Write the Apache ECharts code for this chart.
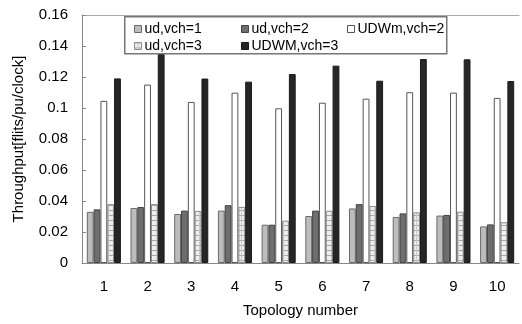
<!DOCTYPE html>
<html>
<head>
<meta charset="utf-8">
<script src="https://cdn.jsdelivr.net/npm/echarts@6/dist/echarts.min.js"></script>
<style>html,body{margin:0;padding:0;background:#fff}#c{width:522px;height:324px}</style>
</head>
<body>
<div id="c"></div>
<script>
const categories = ['1','2','3','4','5','6','7','8','9','10'];
const seriesNames = ['ud,vch=1','ud,vch=2','UDWm,vch=2','ud,vch=3','UDWM,vch=3'];
const udVch1   = [0.0330, 0.0355, 0.0316, 0.0338, 0.0247, 0.0303, 0.0352, 0.0297, 0.0306, 0.0236];
const udVch2   = [0.0346, 0.0361, 0.0338, 0.0373, 0.0247, 0.0338, 0.0380, 0.0320, 0.0310, 0.0249];
const udwmVch2 = [0.1046, 0.1151, 0.1039, 0.1099, 0.0998, 0.1034, 0.1060, 0.1102, 0.1099, 0.1065];
const udVch3   = [0.0380, 0.0380, 0.0336, 0.0362, 0.0273, 0.0337, 0.0368, 0.0327, 0.0331, 0.0263];
const udwmVch3 = [0.1191, 0.1348, 0.1190, 0.1170, 0.1219, 0.1273, 0.1176, 0.1316, 0.1314, 0.1174];
const yTicks = { min: 0, max: 0.16, interval: 0.02 };

// hatch pattern for ud,vch=3
const pc = document.createElement('canvas');
pc.width = 7; pc.height = 5;
const g = pc.getContext('2d');
g.fillStyle = '#eeeeee'; g.fillRect(0,0,7,5);
g.fillStyle = '#a8a8a8'; g.fillRect(0,0,7,1);
g.fillStyle = '#c8c8c8'; g.fillRect(3,0,1,5);
const hatch = { image: pc, repeat: 'repeat' };

const FONT = "'Liberation Sans', Arial, sans-serif";
const styles = [
  { color: '#bdbdbd', borderColor: '#6a6a6a' },
  { color: '#6e6e6e', borderColor: '#444444' },
  { color: '#ffffff', borderColor: '#555555' },
  { color: hatch,     borderColor: '#8a8a8a' },
  { color: '#262626', borderColor: '#1a1a1a' }
];
const values = [udVch1, udVch2, udwmVch2, udVch3, udwmVch3];
const legendPos = [[129,17],[236,17],[342,17],[129,34],[236,34]];

const chart = echarts.init(document.getElementById('c'), null, { renderer: 'canvas' });
chart.setOption({
  animation: false,
  textStyle: { fontFamily: FONT },
  grid: { left: 82, right: 3, top: 15, bottom: 61, containLabel: false },
  legend: seriesNames.map((n, i) => ({
    left: legendPos[i][0], top: legendPos[i][1], z: 5,
    itemWidth: 7, itemHeight: 7, icon: 'rect', selectedMode: false,
    itemStyle: { borderWidth: 1 },
    textStyle: { fontFamily: FONT, fontSize: 14, color: '#000', padding: [0,0,0,-2] },
    data: [n]
  })),
  graphic: [{
    type: 'rect', left: 124, top: 16, z: 3,
    shape: { width: 322, height: 37 },
    style: { fill: '#fff', stroke: '#777', lineWidth: 1.5 }
  }],
  xAxis: [{
    type: 'category', data: categories,
    name: 'Topology number', nameLocation: 'middle', nameGap: 40,
    nameTextStyle: { fontSize: 15, color: '#000', fontFamily: FONT },
    axisLine: { lineStyle: { color: '#888', width: 1 } },
    axisTick: { inside: true, length: 4, lineStyle: { color: '#bbb' } },
    axisLabel: { fontSize: 15, color: '#000', margin: 16, fontFamily: FONT }
  }, {
    type: 'category', data: categories, position: 'top',
    axisLine: { show: true, lineStyle: { color: '#aaa', width: 1 } },
    axisTick: { show: false }, axisLabel: { show: false }
  }],
  yAxis: {
    type: 'value', min: yTicks.min, max: yTicks.max, interval: yTicks.interval,
    name: 'Throughput[flits/pu/clock]', nameLocation: 'middle', nameGap: 56,
    nameTextStyle: { fontSize: 15, color: '#000', fontFamily: FONT },
    axisLine: { show: true, lineStyle: { color: '#888', width: 1 } },
    axisTick: { show: true, inside: true, length: 4, lineStyle: { color: '#888' } },
    axisLabel: { fontSize: 15, color: '#000', margin: 14, fontFamily: FONT },
    splitLine: { show: false }
  },
  series: seriesNames.map((n, i) => ({
    name: n, type: 'bar', data: values[i],
    barGap: '0%', barCategoryGap: '22%',
    itemStyle: { color: styles[i].color, borderColor: styles[i].borderColor, borderWidth: 1 }
  }))
});
</script>
</body>
</html>
